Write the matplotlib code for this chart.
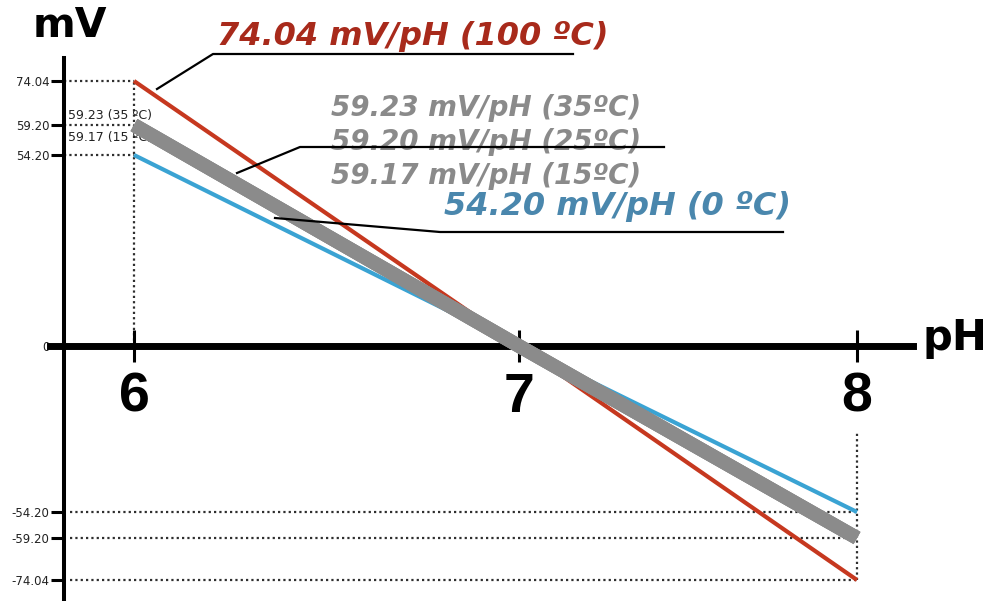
import numpy as np
import matplotlib
matplotlib.use("Agg")
import matplotlib.pyplot as plt
from matplotlib.lines import Line2D

W, H = 989, 601

# ---------------- data ----------------
ph = [6, 7, 8]
ph_labels = ["6", "7", "8"]
mv_ticks = [-74.04, -59.20, -54.20, 0, 54.20, 59.20, 74.04]
mv_tick_labels = ["-74.04", "-59.20", "-54.20", "0", "54.20", "59.20", "74.04"]

mv_100c = [74.04, 0, -74.04]
mv_35c = [59.23, 0, -59.23]
mv_25c = [59.20, 0, -59.20]
mv_15c = [59.17, 0, -59.17]
mv_0c = [54.20, 0, -54.20]

pos_guides = [74.04, 59.20, 54.20]
neg_guides = [-54.20, -59.20, -74.04]

# ---------------- layout (pixel anchors of the hand-drawn, not-to-scale axes) ----------------
x_px = [134, 519, 857]
y_px = [580, 538, 512, 346, 155, 125, 81]


def pw(xs, ys):
    xs = np.asarray(xs, float)
    ys = np.asarray(ys, float)

    def f(v):
        v = np.asarray(v, float)
        out = np.interp(v, xs, ys)
        lo_s = (ys[1] - ys[0]) / (xs[1] - xs[0])
        hi_s = (ys[-1] - ys[-2]) / (xs[-1] - xs[-2])
        out = np.where(v < xs[0], ys[0] + (v - xs[0]) * lo_s, out)
        out = np.where(v > xs[-1], ys[-1] + (v - xs[-1]) * hi_s, out)
        return out
    return f


fx = pw(ph, x_px)
ix = pw(x_px, ph)
yup = [H - p for p in y_px]
fy = pw(mv_ticks, yup)
iy = pw(yup, mv_ticks)

fig = plt.figure(figsize=(W / 100, H / 100), dpi=100)
ax = fig.add_axes([0, 0, 1, 1])
ax.set_xscale("function", functions=(fx, ix))
ax.set_yscale("function", functions=(fy, iy))
ax.set_xlim(float(ix(0)), float(ix(W)))
ax.set_ylim(float(iy(0)), float(iy(H)))


def P(x, y):
    return x / W, 1 - y / H


yaxis_x = float(ix(64))

# guides
dot = dict(color="#2e2e2e", lw=1.6, linestyle=(0, (1, 1.4)), zorder=1)
ax.hlines(pos_guides, yaxis_x, ph[0], **dot)
ax.hlines(neg_guides, float(ix(70)), ph[-1], **dot)
ax.vlines(ph[0], 0, pos_guides[0], **dot)
ax.vlines(ph[-1], neg_guides[-1], float(iy(H - 432)), **dot)

# lines
ax.plot(ph, mv_100c, color="#c6381f", lw=3, zorder=3, solid_capstyle="butt")
ax.plot(ph, mv_0c, color="#3aa3d3", lw=3, zorder=4, solid_capstyle="butt")
for s in (mv_35c, mv_25c, mv_15c):
    ax.plot(ph, s, color="#8b8b8b", lw=10, zorder=5, solid_capstyle="butt")

# axes
for k in ("top", "right"):
    ax.spines[k].set_visible(False)
ax.spines["left"].set_position(("data", yaxis_x))
ax.spines["left"].set_bounds(float(iy(0)), float(iy(H - 58)))
ax.spines["left"].set_linewidth(2.9)
ax.spines["bottom"].set_position(("data", 0))
ax.spines["bottom"].set_bounds(float(ix(50)), float(ix(913)))
ax.spines["bottom"].set_linewidth(5)
ax.spines["bottom"].set_zorder(2.5)

ax.set_xticks(ph, ph_labels)
ax.tick_params(axis="x", direction="inout", length=23, width=2.2, pad=7, labelsize=40)
for t in ax.get_xticklabels():
    t.set_fontfamily("Liberation Sans")
    t.set_fontweight("bold")
ax.set_yticks(mv_ticks, mv_tick_labels)
ax.tick_params(axis="y", direction="out", length=9.5, width=2.2, pad=1, labelsize=8.5, labelcolor="#222222")
ax.minorticks_off()

# axis titles
ax.text(*P(33, 37), "mV", transform=ax.transAxes, fontsize=29.5, fontweight="bold",
        family="DejaVu Sans", ha="left", va="baseline")
ax.text(*P(922, 350), "pH", transform=ax.transAxes, fontsize=30, fontweight="bold",
        family="DejaVu Sans", ha="left", va="baseline")

# small annotations
ax.text(*P(68, 119), "59.23 (35 ºC)", transform=ax.transAxes, fontsize=9, ha="left",
        va="baseline", color="#222222", zorder=4.5)
ax.text(*P(68, 141), "59.17 (15 ºC)", transform=ax.transAxes, fontsize=9, ha="left",
        va="baseline", color="#222222", zorder=4.5)

# big labels
lab = dict(transform=ax.transAxes, fontweight="bold", style="italic", family="DejaVu Sans",
           ha="left", va="baseline", zorder=6)
ax.text(*P(217, 45), "74.04 mV/pH (100 ºC)", fontsize=23, color="#a82a1b", **lab)
ax.text(*P(331, 116), "59.23 mV/pH (35ºC)", fontsize=20, color="#8a8a8a", **lab)
ax.text(*P(331, 150), "59.20 mV/pH (25ºC)", fontsize=20, color="#8a8a8a", **lab)
ax.text(*P(331, 184), "59.17 mV/pH (15ºC)", fontsize=20, color="#8a8a8a", **lab)
ax.text(*P(444, 215), "54.20 mV/pH (0 ºC)", fontsize=23, color="#4a87ad", **lab)

# leader lines
def leader(pts):
    xs = [p[0] / W for p in pts]
    ys = [1 - p[1] / H for p in pts]
    ax.add_line(Line2D(xs, ys, transform=ax.transAxes, color="black", lw=1.6, zorder=7))

leader([(157, 89), (213, 54), (573, 54)])
leader([(237, 173), (300, 147), (664, 147)])
leader([(275, 218), (440, 232), (783, 232)])

fig.savefig("out.png", dpi=100, facecolor="white")
